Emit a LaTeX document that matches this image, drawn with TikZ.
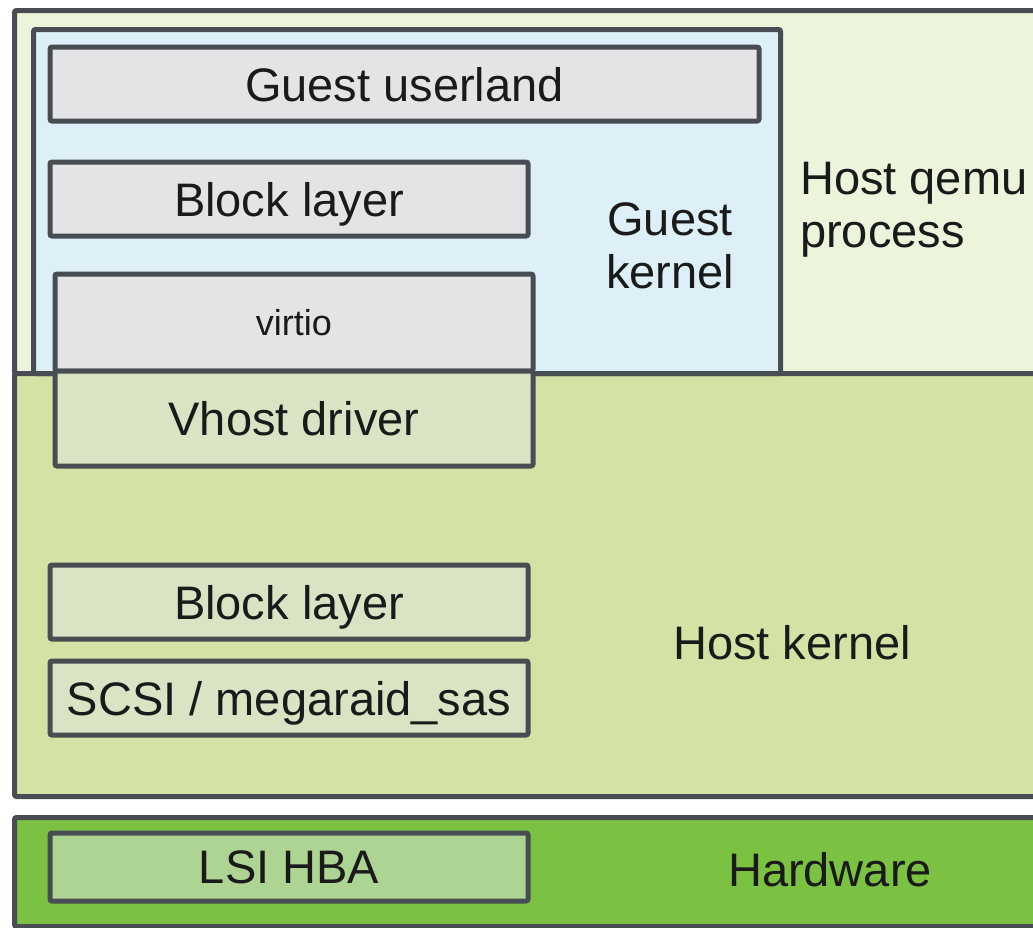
\documentclass[tikz,border=0pt]{standalone}
\usepackage{fontspec}
\setmainfont{Liberation Sans}
\usetikzlibrary{positioning}

\definecolor{edge}{HTML}{474D52}
\definecolor{qemufill}{HTML}{EAF5DC}
\definecolor{kernfill}{HTML}{D2E3A5}
\definecolor{hwfill}{HTML}{7BC142}
\definecolor{guestfill}{HTML}{DDF0F7}
\definecolor{grayfill}{HTML}{E4E4E6}
\definecolor{vhostfill}{HTML}{D9E4C4}
\definecolor{hbafill}{HTML}{AED494}
\definecolor{ink}{HTML}{1A1A1A}

\begin{document}
\begin{tikzpicture}[
  x=1pt, y=-1pt,
  font=\fontsize{47}{53}\selectfont, text=ink,
  layer/.style={draw=edge, line width=5pt, rounded corners=2pt, anchor=north west,
    inner sep=0pt},
  blk/.style={draw=edge, line width=5pt, rounded corners=2pt, inner sep=0pt,
    text depth=0pt, minimum width=478pt, minimum height=74pt},
  lbl/.style={align=center, inner sep=0pt}
]
\useasboundingbox (0,0) rectangle (1033,927);
\clip (0,0) rectangle (1033,927);
% outer layers
\node[layer, fill=qemufill, minimum width=1100pt, minimum height=363pt] (qemu) at (12,8) {};
\node[layer, fill=kernfill, minimum width=1100pt, minimum height=423pt] (hostk) at (12,371) {};
\node[layer, fill=hwfill, minimum width=1100pt, minimum height=109pt] (hw) at (12,815) {};
\node[layer, fill=guestfill, minimum width=747pt, minimum height=344pt] (guestk) at (31,27) {};
% guest side
\node[blk, fill=grayfill, minimum width=709pt] (userland) at (404.5,84) {Guest userland};
\node[blk, fill=grayfill] (gblock) at (289,199) {Block layer};
\node[blk, fill=grayfill, minimum height=97pt] (virtio) at (294,322.5)
  {\fontsize{36}{40}\selectfont virtio};
\node[blk, fill=vhostfill, minimum height=95pt] (vhost) at (294,418.5) {Vhost driver};
% host side
\node[blk, fill=vhostfill] (hblock) at (289,602) {Block layer};
\node[blk, fill=vhostfill] (scsi) at (289,698) {SCSI / megaraid\_sas};
\node[blk, fill=hbafill, minimum height=68pt] (hba) at (289,867) {LSI HBA};
% layer names
\node[lbl] (guestlbl) at (670,246) {Guest\\kernel};
\node[lbl, align=left, anchor=west] (qemulbl) at (800,210) {Host qemu\\process};
\node[lbl] (hostlbl) at (792,643) {Host kernel};
\node[lbl] (hwlbl) at (830,870) {Hardware};
\end{tikzpicture}
\end{document}
